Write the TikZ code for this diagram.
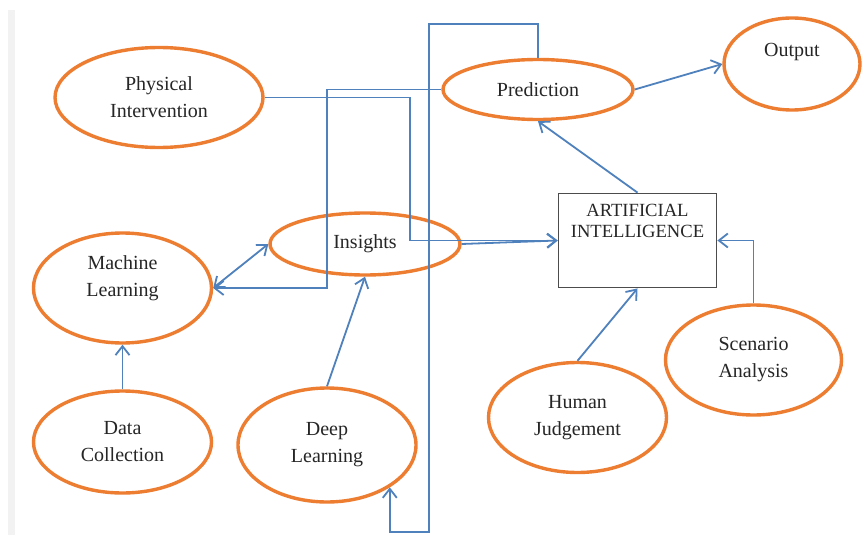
\documentclass[tikz,border=0pt]{standalone}
\usepackage{fontspec}
\setmainfont{Liberation Serif}
\usetikzlibrary{shapes.geometric,arrows.meta}
\definecolor{bubbleorange}{RGB}{237,125,49}
\definecolor{linkblue}{RGB}{79,129,189}

\begin{document}
\begin{tikzpicture}[x=0.5pt, y=-0.5pt, bubble/.style = {shape=ellipse, draw=bubbleorange, line width=1.7pt, align=center, inner sep=0pt, font=\fontsize{10}{13.5}\selectfont, text=black!85}, aibox/.style = {shape=rectangle, draw=black!70, line width=0.9pt, align=center, inner sep=0pt, minimum width=79pt, minimum height=47pt, font=\fontsize{9.3}{10.5}\selectfont, text=black!85, text depth=20pt}, link/.style = {draw=linkblue, line width=0.9pt}, >={Straight Barb[length=4.5pt,width=7pt]}]
	\useasboundingbox (0,0) rectangle (862,535);
	\fill[white] (0,0) rectangle (862,535);
	\fill[black!5] (8,10) rectangle (15,535);
	\node[bubble, minimum width=104pt, minimum height=50pt] (physint) at (159,97.5) {Physical\\Intervention};
	\node[bubble, minimum width=89pt, minimum height=55pt, text depth=12pt] (machlearn) at (122.5,288) {Machine\\Learning};
	\node[bubble, minimum width=95pt, minimum height=31pt] (insights) at (365,244) {Insights};
	\node[bubble, minimum width=89pt, minimum height=51pt] (datacoll) at (122.5,442) {Data\\Collection};
	\node[bubble, minimum width=89pt, minimum height=57pt] (deeplearn) at (327,445) {Deep\\Learning};
	\node[bubble, minimum width=95pt, minimum height=30pt] (predict) at (538,89.5) {Prediction};
	\node[bubble, minimum width=68pt, minimum height=46pt, text depth=14pt] (output) at (792,64) {Output};
	\node[aibox] (ai) at (637.5,240.5) {ARTIFICIAL\\INTELLIGENCE};
	\node[bubble, minimum width=89pt, minimum height=55pt] (human) at (577.5,417.5) {Human\\Judgement};
	\node[bubble, minimum width=88pt, minimum height=55pt] (scenario) at (753.5,360) {Scenario\\Analysis};
	\coordinate (mlturn) at (327,288);
	\coordinate (piturn) at (410,240.5);
	\coordinate (looptop) at (429,24);
	\coordinate (loopbot) at (429,532);
	\draw[link,->] (datacoll) -- (machlearn);
	\draw[link,<->] (machlearn.east) -- (insights.west);
	\draw[link,->] (predict.west) -| (mlturn) -- (machlearn.east);
	\draw[link,->] (physint.east) -| (piturn) -- (ai.west);
	\draw[link,->] (insights.east) -- (ai.west);
	\draw[link,->] (deeplearn.north) -- (insights.south);
	\draw[link,->] (predict.north) |- (looptop) -- (loopbot) -| (deeplearn.-34);
	\draw[link,->] (ai.north) -- (predict.south);
	\draw[link,->] (predict.east) -- (output.west);
	\draw[link,->] (human.north) -- (ai.south);
	\draw[link,->] (scenario.north) |- (ai.east);
\end{tikzpicture}
\end{document}
